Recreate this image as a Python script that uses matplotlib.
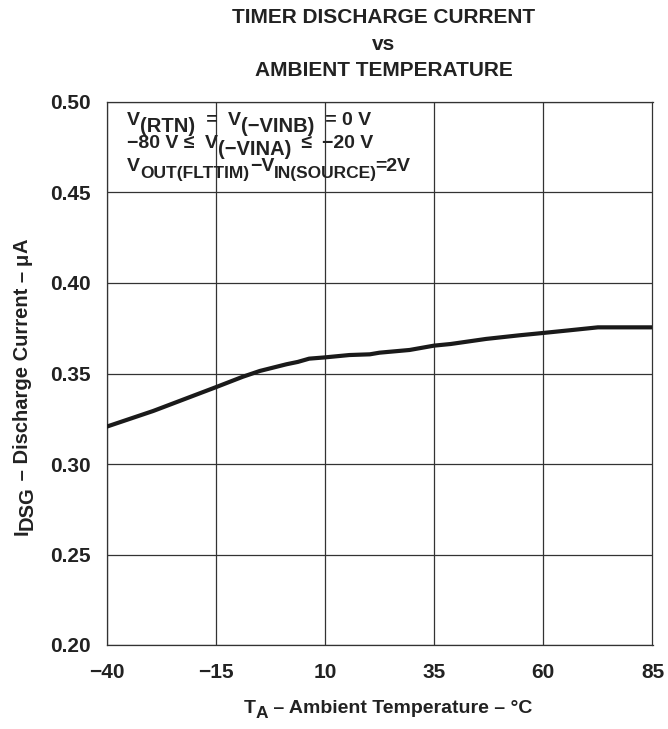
import matplotlib
matplotlib.use("Agg")
import matplotlib.pyplot as plt

plt.rcParams['font.family'] = ['Liberation Sans', 'DejaVu Sans']
plt.rcParams['font.weight'] = 'bold'

temp_c = [-40, -29.3, -15, -8.8, -4.9, 1.2, 3.8, 6.4, 10, 15.6, 20.3, 22.5,
          29.4, 35, 38.8, 46.9, 54.5, 60, 66.1, 72.5, 85]
current_ua = [0.3206, 0.3293, 0.3424, 0.3482, 0.3514, 0.3551, 0.3564, 0.3582,
              0.3589, 0.3602, 0.3606, 0.3615, 0.3630, 0.3654, 0.3663, 0.3691,
              0.3711, 0.3724, 0.3739, 0.3755, 0.3755]
x_ticks = [-40, -15, 10, 35, 60, 85]
x_tick_labels = ['\u221240', '\u221215', '10', '35', '60', '85']
y_ticks = [0.20, 0.25, 0.30, 0.35, 0.40, 0.45, 0.50]
y_tick_labels = ['0.20', '0.25', '0.30', '0.35', '0.40', '0.45', '0.50']

W, H = 668, 729
TXT = '#222222'
fig = plt.figure(figsize=(W / 100, H / 100), dpi=100)
ax = fig.add_axes([106.5 / W, 1 - 645 / H, 546 / W, 543 / H])

ax.plot(temp_c, current_ua, color='#1a1a1a', lw=3.0, solid_capstyle='butt', zorder=3)
ax.set_xlim(-40, 85)
ax.set_ylim(0.20, 0.50)
ax.set_xticks(x_ticks)
ax.set_xticklabels(x_tick_labels)
ax.set_yticks(y_ticks)
ax.set_yticklabels(y_tick_labels)
ax.grid(True, color='#333333', lw=0.9)
ax.set_axisbelow(True)
for s in ax.spines.values():
    s.set_color('#333333')
    s.set_linewidth(0.9)
ax.tick_params(length=0, labelsize=15, pad=11)
ax.tick_params(axis='x', pad=13)
for lab in ax.get_xticklabels() + ax.get_yticklabels():
    lab.set_fontweight('bold')
    lab.set_color(TXT)

# titles
for yy, t in [(17.5, 'TIMER DISCHARGE CURRENT'), (44, 'vs'), (70.5, 'AMBIENT TEMPERATURE')]:
    fig.text(384 / W, 1 - yy / H, t, ha='center', va='center',
             fontsize=15, fontweight='bold', color=TXT)

renderer = fig.canvas.get_renderer()


def rich(x0, y0, segs, rotation=0, center=False):
    """Draw segments (text, size, dy_px, dx_px) one after another; x0,y0 in pixels from top-left."""
    widths = []
    for t, sz, dy, dx in segs:
        tt = fig.text(0, 0, t, fontsize=sz, fontweight='bold')
        widths.append(tt.get_window_extent(renderer).width)
        tt.remove()
    total = sum(w + s[3] for w, s in zip(widths, segs))
    pos = -total / 2 if center else 0
    for (t, sz, dy, dx), w in zip(segs, widths):
        pos += dx
        if rotation == 90:
            px, py = x0 + dy, y0 - pos
            fig.text(px / W, 1 - py / H, t, fontsize=sz, fontweight='bold', color=TXT,
                     rotation=90, rotation_mode='anchor', ha='left', va='baseline')
        else:
            px, py = x0 + pos, y0 + dy
            fig.text(px / W, 1 - py / H, t, fontsize=sz, fontweight='bold', color=TXT,
                     ha='left', va='baseline')
        pos += w


# axis labels
rich(388, 713, [('T', 14, 0, 0), ('A', 12.5, 5, 0), (' \u2013 Ambient Temperature \u2013 \u00b0C', 14, 0, 0)],
     center=True)
rich(28, 387, [('I', 14.5, 0, 0), ('DSG', 14.5, 5, 0), (' \u2013 Discharge Current \u2013 ', 14.5, 0, 0),
               ('\u03bc', 14.5, 0, 0), ('A', 14.5, 0, 0)], rotation=90, center=True)

# annotation
S = 14
SS = 14.5
D = 7
rich(127, 125, [('V', S, 0, 0), ('(RTN)', SS, D, 0), (' = ', S, 0, 6), ('V', S, 0, 5),
                ('(\u2212VINB)', SS, D, 0), (' = 0 V', S, 0, 5)])
rich(127, 148, [('\u221280 V \u2264 ', S, 0, 0), ('V', S, 0, 5), ('(\u2212VINA)', SS, D, 0),
                (' \u2264 ', S, 0, 5), ('\u221220 V', S, 0, 4)])
rich(127, 171, [('V', S, 0, 0), ('OUT(FLTTIM)', 12.5, D, 0), ('\u2212V', S, 0, 1),
                ('IN(SOURCE)', 12.5, D, -1), ('=2V', S, 0, -1)])

fig.savefig('out.png', dpi=100)
